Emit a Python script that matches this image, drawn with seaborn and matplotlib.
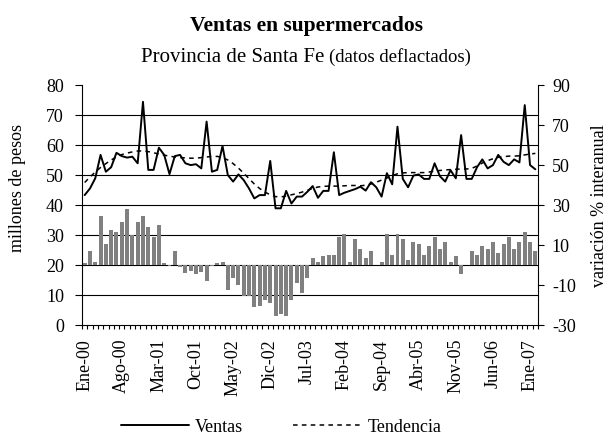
import numpy as np
import pandas as pd
import matplotlib
matplotlib.use("Agg")
import matplotlib.pyplot as plt
import matplotlib.transforms as mtransforms
import seaborn as sns

# Datos mensuales Ene-00 .. Feb-07
meses = ["Ene", "Feb", "Mar", "Abr", "May", "Jun", "Jul", "Ago", "Sep", "Oct", "Nov", "Dic"]

ventas = [
    43.3, 45.5, 48.9, 56.7, 51.1, 52.6, 57.4, 56.3, 55.8, 56.1, 53.9, 74.4,
    51.7, 51.7, 59.1, 56.7, 50.3, 56.3, 56.7, 53.9, 53.3, 53.6, 52.2, 67.8,
    51.1, 51.7, 59.7, 50.0, 47.8, 50.2, 48.3, 45.5, 42.2, 43.3, 43.3, 54.7,
    38.9, 38.9, 44.7, 40.5, 42.8, 42.8, 44.4, 46.3, 42.4, 44.7, 44.7, 57.6,
    43.3, 44.1, 44.7, 45.3, 46.1, 44.8, 47.6, 45.9, 42.8, 50.6, 46.9, 66.1,
    48.7, 45.9, 49.8, 50.2, 48.7, 48.7, 53.9, 49.6, 47.8, 51.6, 48.9, 63.3,
    48.7, 48.7, 52.6, 55.2, 52.2, 53.3, 56.7, 54.4, 53.3, 55.2, 54.2, 73.3,
    53.3, 51.9,
]

tendencia = [
    47.5, 49.3, 51.0, 52.5, 53.8, 55.0, 56.0, 56.8, 57.3, 57.7, 58.0, 58.0,
    57.8, 57.4, 57.0, 56.6, 56.3, 56.0, 55.8, 55.7, 55.6, 55.6, 55.8, 56.0,
    56.2, 56.2, 55.8, 55.0, 53.8, 52.3, 50.6, 48.8, 47.0, 45.5, 44.3, 43.4,
    42.8, 42.7, 43.0, 43.4, 43.8, 44.3, 44.9, 45.5, 46.0, 46.2, 46.3, 46.3,
    46.3, 46.4, 46.5, 46.5, 46.4, 46.6, 47.0, 47.6, 48.3, 49.0, 49.8, 50.4,
    50.7, 50.8, 50.8, 50.8, 50.8, 51.0, 51.3, 51.5, 51.7, 51.8, 51.9, 52.0,
    52.0, 52.2, 53.0, 54.0, 54.8, 55.4, 55.9, 56.1, 56.3, 56.3, 56.4, 56.7,
    57.0, 57.2,
]

variacion = [
    0.8, 7.2, 1.7, 24.7, 10.5, 17.5, 16.7, 21.7, 28.0, 15.2, 21.7, 24.7,
    19.2, 14.2, 20.2, 0.8, -0.3, 7.2, -0.8, -4.0, -2.8, -4.3, -3.7, -7.8,
    -0.7, 0.8, 1.5, -12.3, -6.5, -9.8, -15.7, -15.7, -20.8, -20.3, -17.3, -19.2,
    -25.3, -24.5, -25.3, -17.3, -9.0, -14.0, -6.3, 3.5, 1.7, 4.5, 5.0, 5.0,
    13.8, 15.5, 1.5, 13.0, 8.0, 3.5, 7.0, 0.0, 1.5, 15.5, 5.0, 15.5,
    13.0, 2.5, 11.7, 10.3, 5.0, 9.5, 14.0, 8.0, 11.7, 1.5, 4.5, -4.5,
    0.0, 7.0, 5.0, 9.5, 8.0, 11.7, 6.0, 10.5, 14.0, 8.0, 11.7, 16.7,
    11.7, 7.2,
]

n = len(ventas)
etiquetas = [f"{meses[i % 12]}-{i // 12:02d}" for i in range(n)]

df = pd.DataFrame({
    "mes": np.arange(n),
    "ventas": ventas,
    "tendencia": tendencia,
    "variacion": variacion,
})

sns.set_style("ticks", {"text.color": "black", "axes.labelcolor": "black",
                        "xtick.color": "black", "ytick.color": "black",
                        "axes.edgecolor": "black"})
plt.rcParams["font.family"] = ["Liberation Serif", "DejaVu Serif"]
plt.rcParams["axes.unicode_minus"] = False

fig = plt.figure(figsize=(6.12, 4.34), dpi=100)
ax = fig.add_axes([82 / 612, 1 - 325 / 434, 456 / 612, 240 / 434])
ax2 = ax.twinx()

# barras: variacion % interanual (eje derecho)
sns.barplot(data=df, x="mes", y="variacion", ax=ax2, color="#808080",
            saturation=1, width=0.75, native_scale=True, errorbar=None,
            linewidth=0, zorder=2)

# lineas de grilla del eje izquierdo, por debajo de las barras
trans = mtransforms.blended_transform_factory(ax2.transAxes, ax.transData)
for v in range(10, 80, 10):
    ax2.plot([0, 1], [v, v], transform=trans, color="black", lw=0.8, zorder=0.5)

# lineas: ventas y tendencia (eje izquierdo)
sns.lineplot(data=df, x="mes", y="tendencia", ax=ax, color="black",
             lw=1.1, linestyle=(0, (3, 2.8)), label="Tendencia")
sns.lineplot(data=df, x="mes", y="ventas", ax=ax, color="black",
             lw=1.4, label="Ventas")
if ax.get_legend():
    ax.get_legend().remove()
l_tend, l_vent = ax.lines[0], ax.lines[1]

ax.set_zorder(ax2.get_zorder() + 1)
ax.patch.set_visible(False)

ax.set_xlim(-0.5, n - 0.5)
ax.set_ylim(0, 80)
ax.set_yticks(range(0, 81, 10))
ax2.set_ylim(-30, 90)
ax2.set_yticks(range(-30, 91, 20))

ax.set_xticks(range(0, n, 7))
ax.set_xticklabels(etiquetas[::7], rotation=90)
ax.set_xticks(np.arange(-0.5, n, 1), minor=True)
ax.tick_params(axis="x", which="major", length=0, pad=10, labelsize=13)
ax.tick_params(axis="x", which="minor", length=3, width=0.8, direction="out")
ax.tick_params(axis="y", length=5, width=0.8, pad=8, labelsize=13)
ax2.tick_params(axis="y", length=4, width=0.8, pad=6, labelsize=13)
ax2.tick_params(axis="x", which="both", bottom=False, labelbottom=False)

ax.set_xlabel("")
ax.set_ylabel("")
ax2.set_xlabel("")
ax2.set_ylabel("")

for s in ["top", "right"]:
    ax.spines[s].set_visible(False)
for s in ["top", "left", "bottom"]:
    ax2.spines[s].set_visible(False)
for sp in [ax.spines["left"], ax.spines["bottom"], ax2.spines["right"]]:
    sp.set_linewidth(0.8)

fig.text(0.5, 1 - 31 / 434, "Ventas en supermercados", ha="center",
         va="baseline", fontsize=15.5, fontweight="bold")

# subtitulo en dos partes: la parte entre parentesis es algo mas chica
y_sub = 1 - 62 / 434
t1 = fig.text(0, y_sub, "Provincia de Santa Fe ", ha="left", va="baseline", fontsize=15)
t2 = fig.text(0, y_sub, "(datos deflactados)", ha="left", va="baseline", fontsize=13.5)
renderer = fig.canvas.get_renderer()
w1 = t1.get_window_extent(renderer).width / fig.bbox.width
w2 = t2.get_window_extent(renderer).width / fig.bbox.width
x0 = 0.5 - (w1 + w2) / 2
t1.set_x(x0)
t2.set_x(x0 + w1)

fig.text(18 / 612, 1 - 188 / 434, "millones de pesos", rotation=90,
         ha="center", va="center", fontsize=13)
fig.text(600 / 612, 1 - 206 / 434, "variación % interanual", rotation=90,
         ha="center", va="center", fontsize=13)

fig.legend(handles=[l_vent, l_tend], labels=["Ventas", "Tendencia"],
           loc="center", bbox_to_anchor=(281 / 612, 1 - 427 / 434), ncol=2,
           frameon=False, fontsize=13, handlelength=3.8, handletextpad=0.3,
           columnspacing=2.8)

fig.savefig("out.png", dpi=100)
